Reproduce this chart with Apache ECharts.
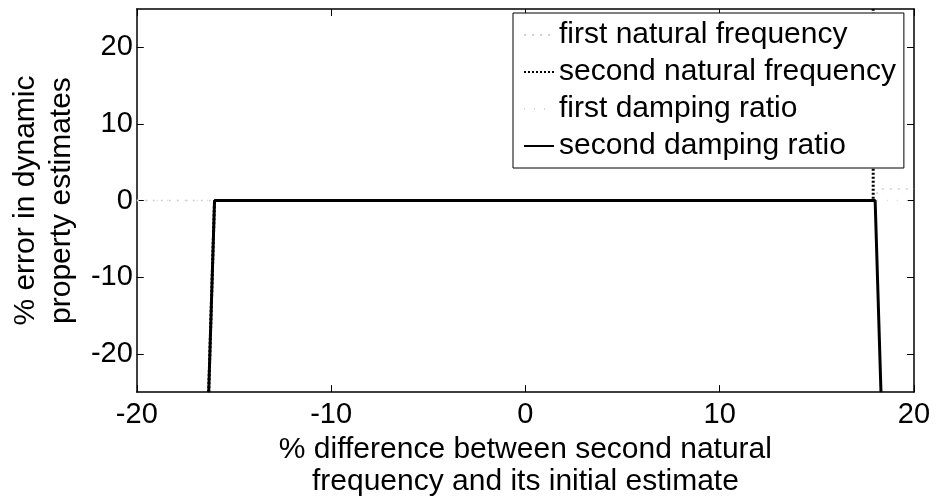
<!DOCTYPE html>
<html>
<head>
<meta charset="utf-8">
<script src="https://cdn.jsdelivr.net/npm/echarts@6/dist/echarts.min.js"></script>
<style>
  html, body { margin: 0; padding: 0; background: #fff; }
  #chart { width: 936px; height: 503px; }
</style>
</head>
<body>
<div id="chart"></div>
<script>
// Series names
const seriesNames = [
  'first natural frequency',
  'second natural frequency',
  'first damping ratio',
  'second damping ratio'
];

// Tick values on both axes
const xTicks = [-20, -10, 0, 10, 20];
const yTicks = [-20, -10, 0, 10, 20];

// Shift of the second natural frequency (%), and the resulting errors (%)
const firstFreqX = [-20, -16.3, -16.0, 17.9, 18.2, 20];
const firstFreqY = [0, 0, 0, 0, 1.5, 1.5];

const secondFreqX = [-16.3, -16.0, 17.9, 17.9];
const secondFreqY = [-25, 0, 0, 25];

const firstDampX = [-20, -16.3, -16.0, 18.0, 20];
const firstDampY = [0, 0, 0, 0, 0];

const secondDampX = [-16.3, -16.0, 18.0, 18.3];
const secondDampY = [-25, 0, 0, -25];

const pairs = (xs, ys) => xs.map((x, i) => [x, ys[i]]);

const FONT = 'Liberation Sans, Arial, sans-serif';

const chart = echarts.init(document.getElementById('chart'), null, { renderer: 'canvas' });

const tickStyle = { show: true, inside: true, length: 7, lineStyle: { color: '#000', width: 1 } };
const lineStyleAxis = { show: true, onZero: false, lineStyle: { color: '#000', width: 1.5 } };

chart.setOption({
  backgroundColor: '#fff',
  animation: false,
  grid: { left: 127, right: 22, top: 9, bottom: 107, containLabel: false },
  xAxis: [
    {
      type: 'value', min: -20, max: 20, interval: 10, position: 'bottom',
      splitLine: { show: false },
      axisLine: lineStyleAxis,
      axisTick: Object.assign({ customValues: xTicks }, tickStyle),
      axisLabel: { fontFamily: FONT, fontSize: 29, color: '#000', margin: 8, customValues: xTicks },
      name: '% difference between second natural\nfrequency and its initial estimate',
      nameLocation: 'middle', nameGap: 36,
      nameTextStyle: { fontFamily: FONT, fontSize: 30, color: '#000', lineHeight: 32 }
    },
    {
      type: 'value', min: -20, max: 20, interval: 10, position: 'top',
      splitLine: { show: false },
      axisLine: lineStyleAxis,
      axisTick: Object.assign({ customValues: xTicks }, tickStyle),
      axisLabel: { show: false }
    }
  ],
  yAxis: [
    {
      type: 'value', min: -25, max: 25, position: 'left',
      splitLine: { show: false },
      axisLine: lineStyleAxis,
      axisTick: Object.assign({ customValues: yTicks }, tickStyle),
      axisLabel: { fontFamily: FONT, fontSize: 29, color: '#000', margin: 4, customValues: yTicks },
      name: '% error in dynamic\nproperty estimates',
      nameLocation: 'middle', nameGap: 50, nameRotate: 90,
      nameTextStyle: { fontFamily: FONT, fontSize: 30, color: '#000', lineHeight: 36 }
    },
    {
      type: 'value', min: -25, max: 25, position: 'right',
      splitLine: { show: false },
      axisLine: lineStyleAxis,
      axisTick: Object.assign({ customValues: yTicks }, tickStyle),
      axisLabel: { show: false }
    }
  ],
  legend: {
    data: seriesNames,
    orient: 'vertical',
    left: 513, top: 13,
    padding: [7, 8, 7, 10],
    itemWidth: 30, itemHeight: 14, itemGap: 7,
    backgroundColor: '#fff',
    borderColor: '#000', borderWidth: 1,
    itemStyle: { opacity: 0 },
    textStyle: { fontFamily: FONT, fontSize: 30, color: '#000' },
    z: 10
  },
  series: [
    {
      name: seriesNames[0], type: 'line', symbol: 'none',
      data: pairs(firstFreqX, firstFreqY),
      lineStyle: { color: '#cfcfcf', width: 1.5, type: [2, 6] },
      itemStyle: { color: '#cfcfcf' }, z: 2
    },
    {
      name: seriesNames[1], type: 'line', symbol: 'none',
      data: pairs(secondFreqX, secondFreqY),
      lineStyle: { color: '#000', width: 3, type: [2, 2] },
      itemStyle: { color: '#000' }, z: 3
    },
    {
      name: seriesNames[2], type: 'line', symbol: 'none',
      data: pairs(firstDampX, firstDampY),
      lineStyle: { color: '#d8d8d8', width: 1.5, type: [1, 9] },
      itemStyle: { color: '#d8d8d8' }, z: 2
    },
    {
      name: seriesNames[3], type: 'line', symbol: 'none',
      data: pairs(secondDampX, secondDampY),
      lineStyle: { color: '#000', width: 3 },
      itemStyle: { color: '#000' }, z: 4
    }
  ]
});
</script>
</body>
</html>
